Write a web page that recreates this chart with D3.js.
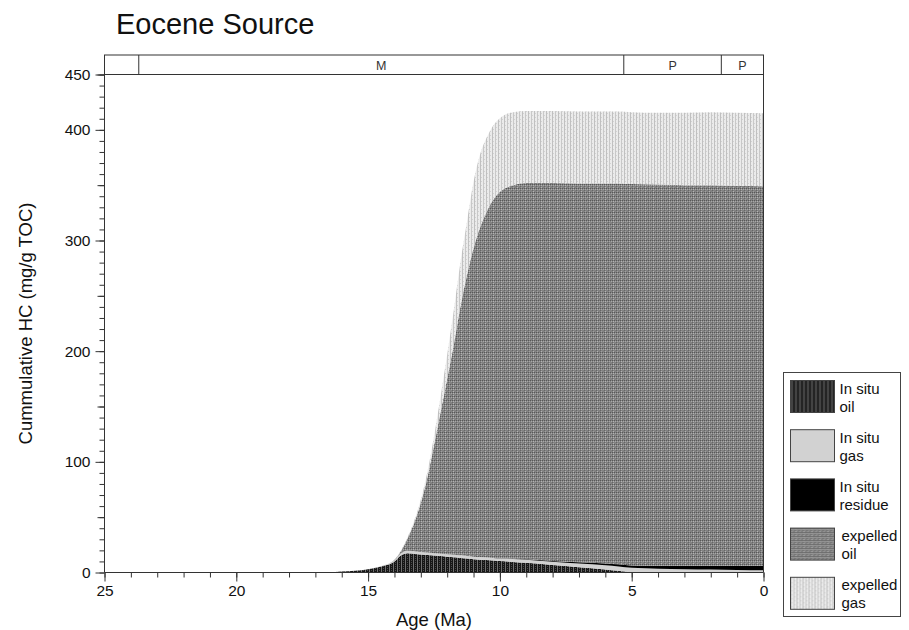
<!DOCTYPE html>
<html>
<head>
<meta charset="utf-8">
<script src="https://cdn.jsdelivr.net/npm/d3@7"></script>
<style>
  html, body { margin: 0; padding: 0; background: #fff; }
  svg { display: block; }
  text { font-family: "Liberation Sans", Arial, sans-serif; fill: #111; }
</style>
</head>
<body>
<script>
// Age steps (Ma), oldest first
const ages = [25, 17, 16.5, 16, 15.5, 15, 14.5, 14, 13.75, 13.5, 13.25, 13, 12.75, 12.5, 12.25, 12,
  11.75, 11.5, 11.25, 11, 10.75, 10.5, 10.25, 10, 9.5, 9, 8, 7, 6, 5.5, 5, 4, 3, 2, 1, 0];

// Cumulative hydrocarbons per component (mg/g TOC)
const inSituOil = [0, 0, 0, 0.8, 1.5, 3, 5.5, 10, 15.5, 17.5, 17, 16.3, 15.8, 15.3, 14.8, 14.3,
  13.7, 13.2, 12.6, 12, 11.6, 11.2, 10.8, 10.4, 9.6, 8.8, 6.8, 4.8, 2.8, 1.5, 0.2, 0, 0, 0, 0, 0];
const inSituGas = [0, 0, 0, 0, 0, 0, 0.3, 1, 2, 2.2, 2.2, 2.2, 2.2, 2.2, 2.2, 2.2,
  2.3, 2.3, 2.3, 2.3, 2.4, 2.4, 2.4, 2.5, 2.6, 2.8, 3, 3.4, 3.8, 4, 4, 3.5, 3, 2.6, 2.2, 2];
const inSituResidue = [0, 0, 0, 0, 0, 0, 0, 0, 0, 0, 0, 0, 0, 0, 0, 0,
  0, 0, 0, 0, 0, 0, 0, 0.1, 0.2, 0.3, 0.7, 1.1, 1.6, 1.9, 2.2, 2.7, 3.1, 3.4, 3.7, 4];
const expelledOil = [0, 0, 0, 0, 0, 0, 0, 0.5, 2, 11.3, 25.8, 44.5, 68, 97.5, 128, 158.5,
  190, 224.5, 254, 278.7, 298, 312.4, 323.8, 331, 337.6, 340.1, 341.5, 342.2, 343.3, 344.1, 344.6, 344.3, 343.9, 344, 343.6, 343];
const expelledGas = [0, 0, 0, 0, 0, 0, 0, 0, 0.5, 1, 2, 3, 5, 8, 14, 22,
  31, 40, 48, 60, 66, 67, 67, 66.5, 66, 65, 65, 65, 65, 65, 65, 65, 65.5, 66, 66, 66];

const seriesKeys = ["inSituOil", "inSituGas", "inSituResidue", "expelledOil", "expelledGas"];
const seriesLabels = [["In situ", "oil"], ["In situ", "gas"], ["In situ", "residue"], ["expelled", "oil"], ["expelled", "gas"]];

// Stratigraphic band: [older age, younger age, label]
const epochs = [[25, 23.7, ""], [23.7, 5.3, "M"], [5.3, 1.6, "P"], [1.6, 0, "P"]];

const xMajor = [25, 20, 15, 10, 5, 0];
const yMajor = [0, 100, 200, 300, 400, 450];

const W = 909, H = 630;
const svg = d3.select("body").append("svg").attr("width", W).attr("height", H);

const x = d3.scaleLinear().domain([25, 0]).range([104.5, 763.5]);
const y = d3.scaleLinear().domain([0, 450]).range([572.5, 74.5]);

// Fill textures
const defs = svg.append("defs");
function pattern(id, w, h, base, pixels) {
  const p = defs.append("pattern").attr("id", id).attr("patternUnits", "userSpaceOnUse")
    .attr("width", w).attr("height", h);
  p.append("rect").attr("width", w).attr("height", h).attr("fill", base);
  pixels.forEach(([px, py, pw, ph, c]) => p.append("rect").attr("x", px).attr("y", py)
    .attr("width", pw).attr("height", ph).attr("fill", c));
}
pattern("pInOil", 4, 2, "#161616", [[1, 0, 1, 2, "#707070"], [3, 0, 1, 1, "#4c4c4c"]]);
pattern("pExpOil", 8, 4, "#828282", [
  [0, 0, 1, 1, "#585858"], [2, 0, 1, 1, "#585858"], [4, 0, 1, 1, "#585858"], [6, 0, 1, 1, "#585858"],
  [1, 1, 1, 1, "#a8a8a8"], [3, 1, 1, 1, "#a8a8a8"], [5, 1, 1, 1, "#b4b4b4"], [7, 1, 1, 1, "#a8a8a8"],
  [0, 2, 1, 1, "#666666"], [4, 2, 1, 1, "#666666"], [5, 3, 1, 1, "#b4b4b4"], [1, 3, 1, 1, "#a0a0a0"]]);
pattern("pExpGas", 6, 4, "#ebebeb", [[0, 0, 1, 4, "#c0c0c0"], [3, 0, 1, 4, "#c8c8c8"],
  [1, 1, 1, 1, "#d2d2d2"], [4, 3, 1, 1, "#d2d2d2"]]);

const fills = {
  inSituOil: "url(#pInOil)",
  inSituGas: "#d2d2d2",
  inSituResidue: "#000000",
  expelledOil: "url(#pExpOil)",
  expelledGas: "url(#pExpGas)"
};

// Stacked data
const rows = ages.map((a, i) => ({
  age: a,
  inSituOil: inSituOil[i],
  inSituGas: inSituGas[i],
  inSituResidue: inSituResidue[i],
  expelledOil: expelledOil[i],
  expelledGas: expelledGas[i]
}));
const stacked = d3.stack().keys(seriesKeys)(rows);

const area = d3.area()
  .x(d => x(d.data.age))
  .y0(d => y(d[0]))
  .y1(d => y(d[1]))
  .curve(d3.curveMonotoneX);

svg.append("g").selectAll("path").data(stacked).join("path")
  .attr("d", area)
  .attr("fill", d => fills[d.key])
  .attr("stroke", "none");

// Frame and epoch band
const axisColor = "#333";
svg.append("rect").attr("x", x(25)).attr("y", 55).attr("width", x(0) - x(25)).attr("height", y(450) - 55)
  .attr("fill", "none").attr("stroke", axisColor).attr("stroke-width", 1);
svg.append("line").attr("x1", x(0)).attr("x2", x(0)).attr("y1", y(450)).attr("y2", y(0))
  .attr("stroke", axisColor);
const band = svg.append("g");
band.selectAll("line").data(epochs.slice(1)).join("line")
  .attr("x1", d => x(d[0])).attr("x2", d => x(d[0])).attr("y1", 55).attr("y2", y(450))
  .attr("stroke", axisColor);
band.selectAll("text").data(epochs).join("text")
  .attr("x", d => (x(d[0]) + x(d[1])) / 2).attr("y", 69.5)
  .attr("text-anchor", "middle").attr("font-size", 12.5).style("fill", "#333")
  .text(d => d[2]);

// X axis
const gx = svg.append("g").attr("transform", `translate(0,${y(0)})`);
gx.call(d3.axisBottom(x).tickValues(d3.range(25, -1, -1)).tickSize(5).tickSizeOuter(0).tickFormat(""));
gx.call(g => g.select(".domain").remove());
const gx2 = svg.append("g").attr("transform", `translate(0,${y(0)})`);
gx2.call(d3.axisBottom(x).tickValues(xMajor).tickSize(9).tickPadding(3).tickSizeOuter(0).tickFormat(d3.format("d")));
gx2.select(".domain").attr("d", `M${x(25)},0H${x(0)}`).attr("stroke", axisColor);
svg.selectAll("g.tick line").attr("stroke", axisColor);
gx2.selectAll("text").attr("font-size", 15.5).attr("font-family", "Liberation Sans, Arial, sans-serif").style("fill", "#111");

// Y axis
const gy = svg.append("g").attr("transform", `translate(${x(25)},0)`);
gy.call(d3.axisLeft(y).tickValues(d3.range(0, 451, 10)).tickSize(5).tickSizeOuter(0).tickFormat(""));
gy.select(".domain").remove();
const gyMid = svg.append("g").attr("transform", `translate(${x(25)},0)`);
gyMid.call(d3.axisLeft(y).tickValues(d3.range(50, 451, 100)).tickSize(7).tickSizeOuter(0).tickFormat(""));
gyMid.select(".domain").remove();
const gy2 = svg.append("g").attr("transform", `translate(${x(25)},0)`);
gy2.call(d3.axisLeft(y).tickValues(yMajor).tickSize(9).tickPadding(5).tickSizeOuter(0).tickFormat(d3.format("d")));
gy2.select(".domain").attr("d", `M0,${y(0)}V${y(450)}`).attr("stroke", axisColor);
svg.selectAll("g.tick line").attr("stroke", axisColor);
gy2.selectAll("text").attr("font-size", 15.5).attr("font-family", "Liberation Sans, Arial, sans-serif").style("fill", "#111");

// Titles
svg.append("text").attr("x", 116).attr("y", 34).attr("font-size", 29).text("Eocene Source");
svg.append("text").attr("x", (x(25) + x(0)) / 2).attr("y", 626).attr("text-anchor", "middle")
  .attr("font-size", 18.5).text("Age (Ma)");
svg.append("text").attr("transform", `translate(32,${(y(0) + y(450)) / 2}) rotate(-90)`)
  .attr("text-anchor", "middle").attr("font-size", 18.5).text("Cummulative HC (mg/g TOC)");

// Legend
const lg = svg.append("g");
lg.append("rect").attr("x", 783.5).attr("y", 372.5).attr("width", 117).attr("height", 244)
  .attr("fill", "#fff").attr("stroke", "#444");
const item = lg.selectAll("g.item").data(seriesKeys).join("g").attr("class", "item")
  .attr("transform", (d, i) => `translate(790.5,${380.5 + i * 49.2})`);
item.append("rect").attr("width", 44).attr("height", 32)
  .attr("fill", d => fills[d]).attr("stroke", "#444");
item.append("text").attr("x", d => d.startsWith("in") ? 49 : 51).attr("y", 13).attr("font-size", 15)
  .text((d, i) => seriesLabels[i][0]);
item.append("text").attr("x", d => d.startsWith("in") ? 49 : 51).attr("y", 31).attr("font-size", 15)
  .text((d, i) => seriesLabels[i][1]);
</script>
</body>
</html>
